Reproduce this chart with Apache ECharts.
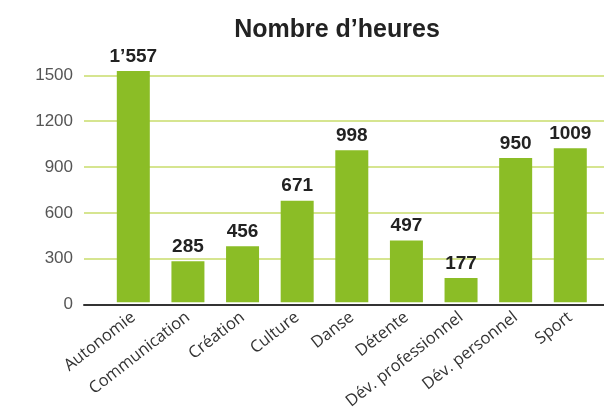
<!DOCTYPE html>
<html lang="fr">
<head>
    <meta charset="UTF-8">
    <title>Nombre d'heures</title>
    <script src="https://cdn.jsdelivr.net/npm/echarts@6/dist/echarts.min.js"></script>
</head>
<body style="margin: 0; background-color: #fff">
<div id="container" style="width: 604px; height: 412px"></div>
</body>
<script type="text/javascript">
    // catégories et valeurs
    let categories = ['Autonomie', 'Communication', 'Création', 'Culture', 'Danse', 'Détente',
        'Dév. professionnel', 'Dév. personnel', 'Sport'];
    // hauteur des barres telle que dessinée
    let barValues = [1529, 272, 370, 671, 1005, 409, 160, 953, 1018];
    // étiquettes affichées au-dessus des barres
    let valueLabels = ['1’557', '285', '456', '671', '998', '497', '177', '950', '1009'];
    let yTicks = [0, 300, 600, 900, 1200, 1500];

    let dom = document.getElementById("container");
    let myChart = echarts.init(dom);
    let numFont = '"Liberation Sans", Arial, sans-serif';

    let option = {
        animation: false,
        title: {
            text: 'Nombre d’heures',
            left: 332,
            top: 13,
            textAlign: 'center',
            textStyle: {
                fontFamily: numFont,
                fontSize: 25,
                fontWeight: 'bold',
                color: '#222'
            }
        },
        grid: [
            {left: 84, right: 0, top: 75.3, bottom: 107.5},
            {left: 106, right: 6.4, top: 75.3, bottom: 107.5}
        ],
        xAxis: [
            {
                gridIndex: 0,
                type: 'value',
                min: 0,
                max: 1,
                z: 5,
                axisLine: {show: true, lineStyle: {color: '#333', width: 2}},
                axisTick: {show: false},
                axisLabel: {show: false},
                splitLine: {show: false}
            },
            {
                gridIndex: 1,
                type: 'category',
                data: categories,
                axisLine: {show: false},
                axisTick: {show: false},
                axisLabel: {
                    rotate: 38,
                    margin: 13,
                    interval: 0,
                    fontFamily: '"Open Sans", sans-serif',
                    fontSize: 16.5,
                    color: '#333'
                }
            }
        ],
        yAxis: [
            {
                gridIndex: 0,
                type: 'value',
                min: yTicks[0],
                max: yTicks[yTicks.length - 1],
                interval: 300,
                axisLine: {show: false},
                axisTick: {show: false},
                axisLabel: {
                    margin: 11,
                    fontFamily: numFont,
                    fontSize: 17,
                    color: '#555',
                    formatter: function (v) {
                        return String(v);
                    }
                },
                splitLine: {lineStyle: {color: '#c9dd6b', width: 1.5}}
            },
            {
                gridIndex: 1,
                type: 'value',
                min: yTicks[0],
                max: yTicks[yTicks.length - 1],
                show: false
            }
        ],
        series: [
            {
                type: 'bar',
                xAxisIndex: 1,
                yAxisIndex: 1,
                data: barValues,
                barWidth: 33,
                clip: false,
                itemStyle: {color: '#8bbd26'},
                label: {
                    show: true,
                    position: 'top',
                    distance: 5,
                    fontFamily: numFont,
                    fontSize: 19,
                    fontWeight: 'bold',
                    color: '#222',
                    formatter: function (p) {
                        return valueLabels[p.dataIndex];
                    }
                }
            }
        ]
    };
    myChart.setOption(option, true);
</script>
</html>
